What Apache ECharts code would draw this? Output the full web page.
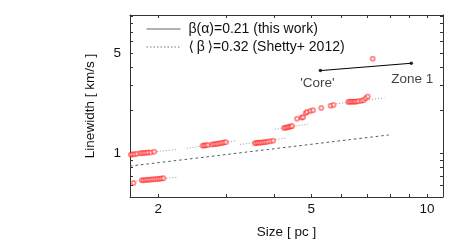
<!DOCTYPE html>
<html><head><meta charset="utf-8">
<script src="https://cdn.jsdelivr.net/npm/echarts@6/dist/echarts.min.js"></script>
<style>html,body{margin:0;padding:0;background:#fff}#c{width:452px;height:244px}</style>
</head><body><div id="c"></div>
<script>
// Tick values
const xTickLabels = [2, 5, 10];
const xTicks = [2, 3, 4, 5, 6, 7, 8, 9, 10];
const yTickLabels = [1, 5];
const yTicks = [0.6, 0.7, 0.8, 0.9, 1, 2, 3, 4, 5, 6, 7, 8, 9];

// Red data points [size pc, linewidth km/s]
const groupA = [[1.699,0.984],[1.716,0.990],[1.737,0.992],[1.761,1.000],[1.797,1.005],[1.819,1.011],[1.840,1.013],[1.862,1.016],[1.884,1.019],[1.914,1.021],[1.953,1.032]];
const groupB = [[1.726,0.626],[1.814,0.653],[1.832,0.655],[1.855,0.657],[1.877,0.658],[1.899,0.660],[1.921,0.662],[1.945,0.664],[1.969,0.665],[1.993,0.667],[2.017,0.669],[2.041,0.671],[2.065,0.674]];
const groupC = [[2.611,1.134],[2.636,1.139],[2.663,1.143],[2.695,1.148],[2.760,1.158],[2.793,1.163],[2.827,1.168],[2.860,1.174],[2.895,1.180],[2.930,1.187],[2.965,1.194],[3.000,1.200]];
const groupD = [[3.568,1.183],[3.604,1.186],[3.639,1.189],[3.675,1.192],[3.719,1.196],[3.764,1.200],[3.808,1.205],[3.855,1.210],[3.916,1.218],[3.979,1.228]];
const groupE = [[4.249,1.507],[4.292,1.515],[4.335,1.525],[4.378,1.535],[4.422,1.545],[4.457,1.555]];
const groupF = [[4.592,1.746],[4.722,1.783],[4.760,1.792],[4.837,1.919],[4.876,1.950],[4.974,1.981],[5.053,2.002],[5.311,2.077],[5.614,2.154],[5.714,2.177]];
const groupG = [[6.240,2.289],[6.299,2.293],[6.364,2.296],[6.427,2.296],[6.490,2.300],[6.555,2.307],[6.634,2.318],[6.752,2.332],[6.834,2.354],[6.928,2.430],[7.013,2.496]];
const isolated = [[7.224,4.57]];

// Dotted fit segments
const fitA = [[1.69,0.988],[2.236,1.071]];
const fitB = [[1.726,0.643],[2.236,0.685]];
const fitC = [[2.373,1.088],[3.211,1.234]];
const fitD = [[3.262,1.158],[4.310,1.287]];
const fitE = [[4.020,1.476],[4.904,1.605]];
const fitG = [[5.807,2.223],[7.745,2.444]];

// Reference lines
const coreZone = [[5.28,3.78],[9.10,4.25]];
const coreZoneNames = ["'Core'", 'Zone 1'];
const shetty = [[1.69,0.82],[7.95,1.349]];

const nameWork = 'β(α)=0.21 (this work)';
const nameShetty = '⟨\u2009β\u2009⟩=0.32 (Shetty+ 2012)';

const FONT = '"Liberation Sans", "DejaVu Sans", Arial, sans-serif';
const txt = '#111';
const axisCol = '#333';

const chart = echarts.init(document.getElementById('c'), null, {renderer: 'canvas'});

const redPts = [].concat(groupA, groupB, groupC, groupD, groupE, groupF, groupG, isolated);
const fits = [fitA, fitB, fitC, fitD, fitE, fitG];

const series = [];
fits.forEach(f => series.push({
  type: 'line', data: f, symbol: 'none', silent: true,
  lineStyle: {color: '#9a9a9a', width: 1, type: [1, 2]}, z: 2
}));
series.push({
  name: nameShetty, type: 'line', data: shetty, symbol: 'none',
  lineStyle: {color: '#555', width: 1, type: [2.5, 3]}, z: 3
});
series.push({
  name: nameWork, type: 'line', data: coreZone, symbol: 'none',
  lineStyle: {color: '#000', width: 1}, z: 4
});
series.push({
  type: 'scatter', symbol: 'circle', symbolSize: 3.5,
  data: coreZone.map((p, i) => ({value: p, label: {
    show: true, formatter: coreZoneNames[i], position: 'bottom', distance: 4,
    offset: i === 0 ? [-3, 0] : [1, 3],
    fontFamily: FONT, fontSize: 13.5, color: txt
  }})),
  itemStyle: {color: '#000'}, z: 5
});
series.push({
  type: 'scatter', symbol: 'emptyCircle', symbolSize: 4, data: redPts,
  itemStyle: {color: 'rgba(255,0,0,0.55)', borderColor: 'rgba(255,0,0,0.55)', borderWidth: 0.8},
  z: 6
});

const xBase = {
  type: 'log', min: 1.69, max: 11, gridIndex: 0,
  axisLine: {show: true, lineStyle: {color: axisCol, width: 1}},
  splitLine: {show: false}, minorTick: {show: false}
};
const yBase = {
  type: 'log', min: 0.5, max: 9.2, gridIndex: 0,
  axisLine: {show: true, lineStyle: {color: axisCol, width: 1}},
  splitLine: {show: false}, minorTick: {show: false}
};

chart.setOption({
  animation: false,
  backgroundColor: '#fff',
  grid: {left: 130, right: 9, top: 15, bottom: 44},
  legend: {
    show: true, orient: 'vertical', left: 141, top: 17,
    itemWidth: 34, itemHeight: 14, itemGap: 4,
    data: [
      {name: nameWork, itemStyle: {opacity: 0}, lineStyle: {color: '#666', width: 1, type: 'solid'}},
      {name: nameShetty, itemStyle: {opacity: 0}, lineStyle: {color: '#777', width: 1, type: [1.5, 2]}}
    ],
    textStyle: {fontFamily: FONT, fontSize: 14, color: txt, padding: [0, 0, 0, 3]},
    selectedMode: false
  },
  xAxis: [
    Object.assign({}, xBase, {
      position: 'bottom',
      name: 'Size [ pc ]', nameLocation: 'middle', nameGap: 28,
      nameTextStyle: {fontFamily: FONT, fontSize: 13.5, color: txt},
      axisTick: {show: true, inside: true, length: 3, customValues: xTicks, lineStyle: {color: axisCol}},
      axisLabel: {show: true, customValues: xTickLabels, margin: 5, fontFamily: FONT, fontSize: 13.5, color: txt}
    }),
    Object.assign({}, xBase, {
      position: 'top',
      axisTick: {show: true, inside: true, length: 3, customValues: xTicks, lineStyle: {color: axisCol}},
      axisLabel: {show: false}
    })
  ],
  yAxis: [
    Object.assign({}, yBase, {
      position: 'left',
      name: 'Linewidth [ km/s ]', nameLocation: 'middle', nameGap: 33,
      nameTextStyle: {fontFamily: FONT, fontSize: 13.5, color: txt},
      axisTick: {show: true, inside: true, length: 3, customValues: yTicks, lineStyle: {color: axisCol}},
      axisLabel: {show: true, customValues: yTickLabels, margin: 9, fontFamily: FONT, fontSize: 13.5, color: txt}
    }),
    Object.assign({}, yBase, {
      position: 'right',
      axisTick: {show: true, inside: true, length: 3, customValues: yTicks, lineStyle: {color: axisCol}},
      axisLabel: {show: false}
    })
  ],
  series: series
});
</script>
</body></html>
